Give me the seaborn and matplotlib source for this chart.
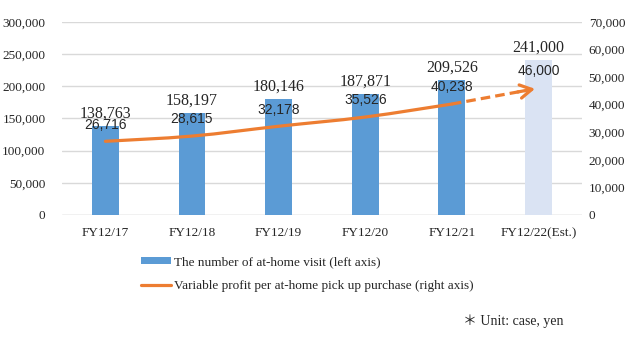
import numpy as np
import pandas as pd
import seaborn as sns
import matplotlib
matplotlib.use("Agg")
import matplotlib.pyplot as plt
from matplotlib.path import Path
from matplotlib.patches import PathPatch, Patch
from matplotlib.lines import Line2D

# Data
years = ["FY12/17", "FY12/18", "FY12/19", "FY12/20", "FY12/21", "FY12/22(Est.)"]
visits = [138763, 158197, 180146, 187871, 209526, 241000]
profit = [26716, 28615, 32178, 35526, 40238, 46000]
estimate = [False, False, False, False, False, True]

bar_label = "The number of at-home visit (left axis)"
line_label = "Variable profit per at-home pick up purchase (right axis)"
unit_note = "\uff0a Unit: case, yen"

BLUE = "#5B9BD5"
LIGHT = "#DAE3F3"
ORANGE = "#ED7D31"
GRID = "#D9D9D9"
LW = 2.3

sns.set_theme(style="white")
plt.rcParams["font.family"] = ["Liberation Serif", "DejaVu Serif"]

df = pd.DataFrame({"year": years, "visits": visits, "profit": profit, "est": estimate})

fig = plt.figure(figsize=(6.4, 3.39), dpi=100)
ax = fig.add_axes([0.097, 0.366, 0.812, 0.569])

sns.barplot(data=df, x="year", y="visits", ax=ax, color=BLUE, width=0.31,
            saturation=1, zorder=2)
for patch, est in zip(ax.patches, df["est"]):
    if est:
        patch.set_facecolor(LIGHT)
    patch.set_edgecolor("none")

ax.set_ylim(0, 300000)
ax.set_yticks(np.arange(0, 300001, 50000))
ax.set_yticklabels([f"{v:,}" for v in range(0, 300001, 50000)], fontsize=9.5)
ax.set_xlabel("")
ax.set_ylabel("")
ax.tick_params(axis="x", labelsize=9.5, pad=9, length=0)
ax.tick_params(axis="y", length=0, pad=12)
ax.yaxis.grid(True, color=GRID, linewidth=1, zorder=0)
ax.set_axisbelow(True)
for s in ax.spines.values():
    s.set_visible(False)
ax.axhline(0, color=GRID, linewidth=1, zorder=1)
ax.set_xlim(-0.5, len(years) - 0.5)

# Right axis: profit line
ax2 = ax.twinx()
ax2.set_ylim(0, 70000)
ax2.set_yticks(np.arange(0, 70001, 10000))
ax2.set_yticklabels([f"{v:,}" for v in range(0, 70001, 10000)], fontsize=9.5)
ax2.tick_params(axis="y", length=0, pad=5)
for s in ax2.spines.values():
    s.set_visible(False)
ax2.grid(False)

# Smoothed actual line (Catmull-Rom through the actual points)
act = df[~df["est"]]
xs = np.arange(len(act), dtype=float)
ys = act["profit"].to_numpy(dtype=float)
verts = [(xs[0], ys[0])]
codes = [Path.MOVETO]
for i in range(len(xs) - 1):
    p0 = (xs[i - 1], ys[i - 1]) if i > 0 else (xs[i], ys[i])
    p1 = (xs[i], ys[i])
    p2 = (xs[i + 1], ys[i + 1])
    p3 = (xs[i + 2], ys[i + 2]) if i + 2 < len(xs) else p2
    c1 = (p1[0] + (p2[0] - p0[0]) / 6, p1[1] + (p2[1] - p0[1]) / 6)
    c2 = (p2[0] - (p3[0] - p1[0]) / 6, p2[1] - (p3[1] - p1[1]) / 6)
    verts += [c1, c2, p2]
    codes += [Path.CURVE4] * 3
ax2.add_patch(PathPatch(Path(verts, codes), facecolor="none", edgecolor=ORANGE,
                        linewidth=LW, capstyle="round", zorder=3))

# Dashed forecast segment with arrow head
i_last = len(act) - 1
i_est = len(years) - 1
slope = profit[i_est] - profit[i_last]
x_end = i_est - 0.04
y_end = profit[i_last] + slope * (x_end - i_last)
x_dash = x_end - 0.12
sns.lineplot(x=[i_last, x_dash], y=[profit[i_last], profit[i_last] + slope * (x_dash - i_last)],
             ax=ax2, color=ORANGE, linewidth=LW, linestyle=(0, (3, 1.6)), zorder=3)
ax2.annotate("", xy=(x_end, y_end), xytext=(x_end - 0.2, y_end - slope * 0.2),
             arrowprops=dict(arrowstyle="->,head_length=0.7,head_width=0.4", color=ORANGE,
                             lw=LW, shrinkA=0, shrinkB=0), zorder=4)

# Value labels
for i, (v, p) in enumerate(zip(visits, profit)):
    ax.annotate(f"{v:,}", xy=(i, v), xytext=(0, 3), textcoords="offset points",
                ha="center", va="bottom", fontsize=11.5, family="Liberation Serif", zorder=5)
    ax2.annotate(f"{p:,}", xy=(i, p), xytext=(0, 7), textcoords="offset points",
                 ha="center", va="bottom", fontsize=10, family="Liberation Sans", zorder=5)

# Legend
handles = [Patch(facecolor=BLUE, edgecolor="none"),
           Line2D([0], [0], color=ORANGE, linewidth=LW)]
fig.legend(handles, [bar_label, line_label], loc="upper left",
           bbox_to_anchor=(0.22, 0.245), frameon=False, fontsize=9.5,
           handlelength=2.3, handleheight=0.5, handletextpad=0.2, labelspacing=0.95,
           borderaxespad=0, borderpad=0)

fig.text(0.88, 0.052, unit_note, ha="right", va="center", fontsize=10,
         family=["Liberation Serif", "Noto Sans CJK JP", "DejaVu Sans"])

fig.savefig("out.png", dpi=100)
